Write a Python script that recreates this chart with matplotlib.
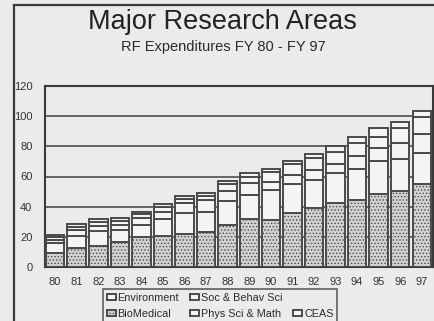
import matplotlib
matplotlib.use("Agg")
import matplotlib.pyplot as plt
from matplotlib.patches import Rectangle
from matplotlib.lines import Line2D
import numpy as np


# -----------------------------
# RF expenditures by research area ($ millions)
# -----------------------------
years = ["80", "81", "82", "83", "84", "85", "86", "87", "88",
         "89", "90", "91", "92", "93", "94", "95", "96", "97"]

biomedical = [9.0, 12.9, 14.2, 16.7, 20.0, 20.4, 22.2, 23.0, 27.7,
              31.6, 31.4, 35.6, 38.9, 42.2, 44.2, 48.7, 50.7, 54.9]
phys_sci_math = [6.6, 7.5, 9.4, 7.7, 7.8, 11.2, 13.4, 13.7, 16.3,
                 16.2, 19.7, 19.7, 18.9, 19.8, 20.8, 21.3, 21.1, 20.7]
ceas = [2.6, 4.0, 3.5, 3.4, 4.4, 5.1, 6.6, 7.9, 6.5,
        7.7, 5.2, 5.4, 6.3, 6.3, 8.6, 8.9, 10.4, 12.8]
soc_behav_sci = [1.6, 2.3, 2.5, 2.9, 2.7, 3.3, 2.9, 2.5, 4.6,
                 4.3, 6.4, 7.8, 8.3, 8.1, 8.4, 7.3, 10.0, 10.9]
environment = [1.5, 2.0, 2.0, 1.7, 1.8, 1.8, 2.1, 1.8, 2.1,
               2.2, 2.2, 2.0, 2.5, 3.6, 4.1, 6.0, 4.0, 4.0]

y_ticks = [0, 20, 40, 60, 80, 100, 120]

PAPER = "#ebebeb"
INK = "#3a3a3a"
EDGE = "#4a4a4a"

plt.rcParams["font.family"] = ["Liberation Sans", "DejaVu Sans"]
plt.rcParams["hatch.color"] = "#8c8c8c"
plt.rcParams["hatch.linewidth"] = 0.6

fig = plt.figure(figsize=(4.35, 3.21), dpi=100, facecolor=PAPER)
ax = fig.add_axes([45 / 435, 1 - 267 / 321, 388 / 435, 181 / 321])
ax.set_facecolor(PAPER)

# page frame
fig.add_artist(Line2D([14 / 435, 1.0], [1 - 5 / 321, 1 - 5 / 321],
                      transform=fig.transFigure, color=INK, lw=1.6))
fig.add_artist(Line2D([14 / 435, 14 / 435], [0.0, 1 - 5 / 321],
                      transform=fig.transFigure, color=INK, lw=1.6))

# titles
fig.text(222 / 435, 1 - 22 / 321, "Major Research Areas", ha="center",
         va="center", fontsize=19.5, color="#222222")
fig.text(223 / 435, 1 - 46.5 / 321, "RF Expenditures FY 80 - FY 97",
         ha="center", va="center", fontsize=10.5, color="#2a2a2a")

# stacked bars
x = np.arange(len(years))
series = [
    ("BioMedical", biomedical, "#d2d2d2"),
    ("Phys Sci & Math", phys_sci_math, "#f4f4f4"),
    ("CEAS", ceas, "#f4f4f4"),
    ("Soc & Behav Sci", soc_behav_sci, "#f4f4f4"),
    ("Environment", environment, "#f4f4f4"),
]
bottom = np.zeros(len(years))
bars = {}
for name, values, color in series:
    bars[name] = ax.bar(x, values, width=0.86, bottom=bottom, color=color,
                        edgecolor=EDGE, linewidth=1.4, label=name, zorder=3,
                        hatch="....." if name == "BioMedical" else None)
    bottom += np.array(values)

ax.set_xlim(-0.47, len(years) - 0.48)
ax.set_ylim(0, 120)
ax.set_yticks(y_ticks)
ax.set_xticks(x)
ax.set_xticklabels(years)
ax.tick_params(axis="both", length=0, labelsize=8, colors="#333333")
ax.tick_params(axis="y", pad=9)
ax.tick_params(axis="x", pad=7)
ax.yaxis.grid(True, color="#505050", linewidth=1.2, zorder=0)
ax.set_axisbelow(True)
for spine in ax.spines.values():
    spine.set_color(INK)
    spine.set_linewidth(1.5)

# legend laid out in two rows
blank = Rectangle((0, 0), 1, 1, fill=False, edgecolor="none")
handles = [bars["Environment"], bars["BioMedical"], bars["Soc & Behav Sci"],
           bars["Phys Sci & Math"], blank, bars["CEAS"]]
labels = ["Environment", "BioMedical", "Soc & Behav Sci",
          "Phys Sci & Math", "", "CEAS"]
leg = fig.legend(handles, labels, ncol=3, loc="upper left",
                 bbox_to_anchor=(103 / 435, 1 - 289 / 321),
                 bbox_transform=fig.transFigure, borderaxespad=0,
                 fontsize=7.8, handlelength=0.85, handleheight=0.55,
                 handletextpad=0.15, columnspacing=1.0, labelspacing=0.55,
                 borderpad=0.35, fancybox=False, frameon=True)
leg.get_frame().set_edgecolor(INK)
leg.get_frame().set_linewidth(1.2)
leg.get_frame().set_facecolor(PAPER)
for t in leg.get_texts():
    t.set_color("#2a2a2a")

fig.savefig("out.png", dpi=100, facecolor=PAPER)
